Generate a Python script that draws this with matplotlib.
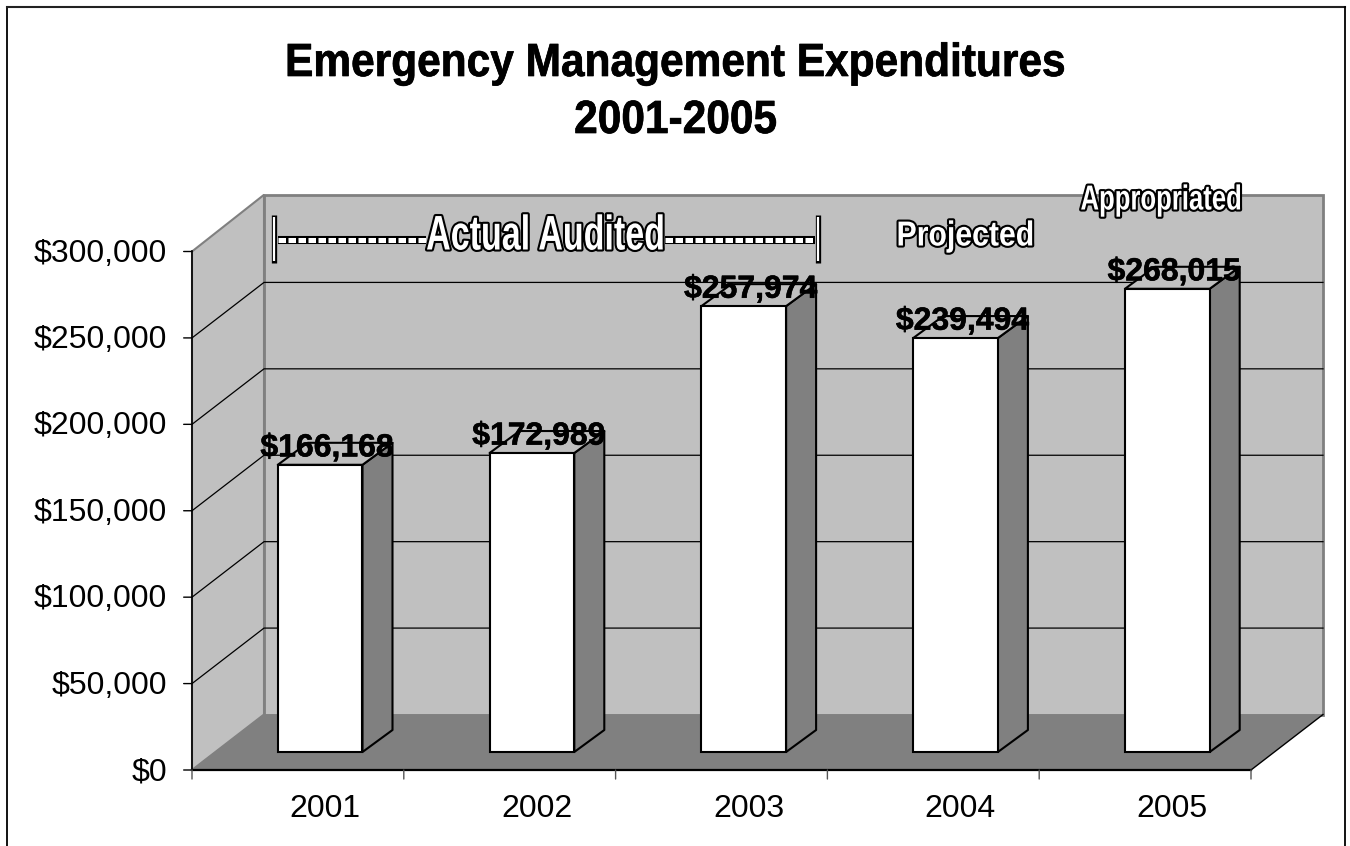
import matplotlib
matplotlib.use('Agg')
import matplotlib.pyplot as plt
import matplotlib.patheffects as pe
from matplotlib.patches import Polygon, Rectangle
from matplotlib.transforms import Affine2D

years = ['2001', '2002', '2003', '2004', '2005']
spending = [166168, 172989, 257974, 239494, 268015]
y_ticks = [0, 50000, 100000, 150000, 200000, 250000, 300000]
spans = ['Actual Audited', 'Projected', 'Appropriated']

WALL = '#c0c0c0'
FLOOR = '#808080'

W, H = 1350, 846
FRONT_W = 1059.0
FRONT_H = 518.5
PX_X = FRONT_W / 5
PX_Y = FRONT_H / 300000

# fake 3d: how far the back wall sits behind the front plane, in data units
DX = 72 / PX_X
DY = 55.5 / PX_Y
TOP_EXTRA = 1.2 / PX_Y
# bars stand partway into the floor and have their own shallower depth
BAR_IN = 0.105
BAR_BASE = 18 / PX_Y
BAR_DX = 30 / PX_X
BAR_DY = 22 / PX_Y
BAR_W = 0.4


class Squeeze(pe.AbstractPathEffect):
    # narrows text around its centre, optional outline drawn underneath
    def __init__(self, sx, cx, stroke=0, edge='black'):
        super().__init__()
        self.sx = sx
        self.cx = cx
        self.stroke = stroke
        self.edge = edge

    def draw_path(self, renderer, gc, tpath, affine, rgbFace):
        aff = affine + Affine2D().translate(-self.cx, 0).scale(self.sx, 1).translate(self.cx, 0)
        if self.stroke:
            gc0 = renderer.new_gc()
            gc0.copy_properties(gc)
            gc0.set_linewidth(self.stroke)
            gc0.set_foreground(self.edge)
            renderer.draw_path(gc0, tpath, aff, rgbFace)
            gc0.restore()
        renderer.draw_path(gc, tpath, aff, rgbFace)


plt.rcParams['font.family'] = ['Liberation Sans', 'DejaVu Sans']

fig = plt.figure(figsize=(W / 100, H / 100), dpi=100)

# frame around the whole chart, open at the bottom
fig.add_artist(plt.Line2D([6.5 / W, 6.5 / W], [0, 1 - 7.5 / H], color='black', lw=1.3))
fig.add_artist(plt.Line2D([6.5 / W, 1344.5 / W], [1 - 7.5 / H, 1 - 7.5 / H], color='#222222', lw=1.5))
fig.add_artist(plt.Line2D([1344.5 / W, 1344.5 / W], [0, 1 - 7.5 / H], color='black', lw=1.3))

# axes box is the front plane of the 3d cube
ax = fig.add_axes([192 / W, 1 - 770 / H, FRONT_W / W, FRONT_H / H])
ax.set_xlim(0, 5)
ax.set_ylim(0, 300000)
ax.patch.set_visible(False)
for s in ax.spines.values():
    s.set_visible(False)
ax.set_xticks([])
ax.set_yticks([])

n = len(years)
ymax = y_ticks[-1]
wall_top = ymax + DY + TOP_EXTRA

# walls and floor
ax.add_patch(Polygon([(DX, DY), (n + DX, DY), (n + DX, wall_top), (DX, wall_top)],
                     fc=WALL, ec=FLOOR, lw=2, clip_on=False, zorder=1))
ax.add_patch(Polygon([(0, 0), (DX, DY), (DX, wall_top), (0, ymax)],
                     fc=WALL, ec=FLOOR, lw=1.5, clip_on=False, zorder=1))
ax.add_patch(Polygon([(0, 0), (DX, DY), (n + DX, DY), (n, 0)],
                     fc=FLOOR, ec='none', clip_on=False, zorder=2))
ax.plot([n, n + DX], [0, DY], color='black', lw=1, clip_on=False, zorder=3)

# gridlines run along the side wall and then across the back
for v in y_ticks[1:-1]:
    ax.plot([0, DX, n + DX], [v, v + DY, v + DY], color='black', lw=0.9, clip_on=False, zorder=2)

# axis lines and ticks
ax.plot([0, 0], [0, ymax], color='black', lw=1.2, clip_on=False, zorder=3)
ax.plot([0, n], [0, 0], color='black', lw=1.6, clip_on=False, zorder=3)
for v in y_ticks:
    ax.annotate('', xy=(0, v), xytext=(-6, 0), textcoords='offset points',
                arrowprops=dict(arrowstyle='-', color='black', lw=1, shrinkA=0, shrinkB=0),
                annotation_clip=False)
    ax.annotate('${:,}'.format(v), xy=(0, v), xytext=(-18, -1.5), textcoords='offset points',
                ha='right', va='center', fontsize=23, annotation_clip=False)
for i in range(n + 1):
    ax.annotate('', xy=(i, 0), xytext=(0, -6.5), textcoords='offset points',
                arrowprops=dict(arrowstyle='-', color='#555555', lw=1, shrinkA=0, shrinkB=0),
                annotation_clip=False)
for i, year in enumerate(years):
    ax.annotate(year, xy=(i + 0.5, 0), xytext=(19.4, -28), textcoords='offset points',
                ha='center', va='center', fontsize=23, annotation_clip=False)

# bars
for i, val in enumerate(spending):
    x0 = i + 0.5 - BAR_W / 2 + BAR_IN
    x1 = x0 + BAR_W
    y1 = BAR_BASE + val
    ax.add_patch(Polygon([(x1, BAR_BASE), (x1 + BAR_DX, BAR_BASE + BAR_DY), (x1 + BAR_DX, y1 + BAR_DY), (x1, y1)],
                         fc=FLOOR, ec='black', lw=1.5, joinstyle='round', clip_on=False, zorder=4))
    ax.add_patch(Polygon([(x0, y1), (x1, y1), (x1 + BAR_DX, y1 + BAR_DY), (x0 + BAR_DX, y1 + BAR_DY)],
                         fc=WALL, ec='black', lw=1.5, joinstyle='round', clip_on=False, zorder=4))
    ax.add_patch(Rectangle((x0, BAR_BASE), BAR_W, val, fc='white', ec='black', lw=1.5,
                           clip_on=False, zorder=5))
    ax.annotate('${:,}'.format(val), xy=(x0 + BAR_W / 2, y1), xytext=(5, 1), textcoords='offset points',
                ha='center', va='bottom', fontsize=23, fontweight='bold', zorder=6,
                annotation_clip=False,
                path_effects=[pe.withStroke(linewidth=0.4, foreground='black')])


# outlined labels over the bars
def span_label(txt, px, py, size, sx):
    fig.text(px / W, 1 - py / H, txt, fontweight='bold', fontsize=size, color='white',
             ha='center', va='center', zorder=10,
             path_effects=[Squeeze(sx, px, stroke=3)])


span_label(spans[0], 545.5, 237, 35, 0.70)
span_label(spans[1], 965.5, 236, 25, 0.87)
span_label(spans[2], 1161, 200, 25, 0.74)

# dashed bracket either side of the first label
for a, b in [(278, 426), (665, 815)]:
    fig.add_artist(plt.Line2D([a / W, b / W], [1 - 239.5 / H] * 2, color='black', lw=5.8,
                              solid_capstyle='butt', zorder=9))
    fig.add_artist(plt.Line2D([a / W, b / W], [1 - 239.5 / H] * 2, color='white', lw=3.6, ls=(0, (1.5, 0.5)),
                              dash_capstyle='butt', zorder=9))
for a in [273.5, 818]:
    fig.add_artist(plt.Line2D([a / W, a / W], [1 - 215 / H, 1 - 263 / H], color='black', lw=3.8,
                              solid_capstyle='butt', zorder=9))
    fig.add_artist(plt.Line2D([a / W, a / W], [1 - 217 / H, 1 - 261 / H], color='white', lw=1.6,
                              solid_capstyle='butt', zorder=9))

fig.text(675.5 / W, 1 - 64 / H, 'Emergency Management Expenditures', ha='center', va='center',
         fontsize=33.5, fontweight='bold',
         path_effects=[Squeeze(0.912, 675.5, stroke=0.5)])
fig.text(675.5 / W, 1 - 121 / H, '2001-2005', ha='center', va='center', fontsize=33.5, fontweight='bold',
         path_effects=[Squeeze(0.912, 675.5, stroke=0.5)])

fig.savefig('out.png', dpi=100, facecolor='white')
